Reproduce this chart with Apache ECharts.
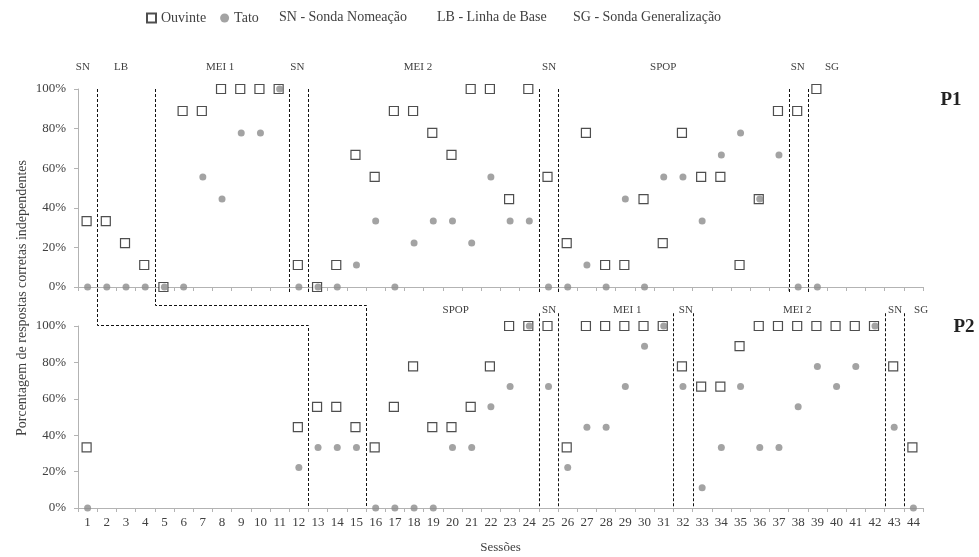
<!DOCTYPE html>
<html>
<head>
<meta charset="utf-8">
<script src="https://cdn.jsdelivr.net/npm/echarts@6/dist/echarts.min.js"></script>
<style>
html,body{margin:0;padding:0;background:#fff;}
#chart{width:979px;height:557px;}
</style>
</head>
<body>
<div id="chart"></div>
<script>
// ---------- DATA ----------
const sessions = ['1','2','3','4','5','6','7','8','9','10','11','12','13','14','15','16','17','18','19','20','21','22','23','24','25','26','27','28','29','30','31','32','33','34','35','36','37','38','39','40','41','42','43','44'];

// P1 (top panel), sessions 1-39
const ouvinteP1 = [33.3,33.3,22.2,11.1,0,88.9,88.9,100,100,100,100,11.1,0,11.1,66.7,55.6,88.9,88.9,77.8,66.7,100,100,44.4,100,55.6,22.2,77.8,11.1,11.1,44.4,22.2,77.8,55.6,55.6,11.1,44.4,88.9,88.9,100,null,null,null,null,null];
const tatoP1 = [0,0,0,0,0,0,55.6,44.4,77.8,77.8,100,0,0,0,11.1,33.3,0,22.2,33.3,33.3,22.2,55.6,33.3,33.3,0,0,11.1,0,44.4,0,55.6,55.6,33.3,66.7,77.8,44.4,66.7,0,0,null,null,null,null,null];

// P2 (bottom panel), sessions 1, 12-44
const ouvinteP2 = [33.3,null,null,null,null,null,null,null,null,null,null,44.4,55.6,55.6,44.4,33.3,55.6,77.8,44.4,44.4,55.6,77.8,100,100,100,33.3,100,100,100,100,100,77.8,66.7,66.7,88.9,100,100,100,100,100,100,100,77.8,33.3];
const tatoP2 = [0,null,null,null,null,null,null,null,null,null,null,22.2,33.3,33.3,33.3,0,0,0,0,33.3,33.3,55.6,66.7,100,66.7,22.2,44.4,44.4,66.7,88.9,100,66.7,11.1,33.3,66.7,33.3,33.3,55.6,77.8,66.7,77.8,100,44.4,0];

// Phase-change lines (session boundaries)
const phaseLinesP1 = [11.5,12.5,24.5,25.5,37.5,38.5];
const phaseLinesP2 = [24.5,25.5,31.5,32.5,42.5,43.5];
const stepLines = [[1.5,12.5],[4.5,15.5]]; // [P1 boundary, P2 boundary]

// Phase labels [text, session coordinate]
const phaseLabelsP1 = [['SN',0.75],['LB',2.74],['MEI 1',7.9],['SN',11.92],['MEI 2',18.2],['SN',25.03],['SPOP',30.97],['SN',37.98],['SG',39.76]];
const phaseLabelsP2 = [['SPOP',20.17],['SN',25.03],['MEI 1',29.1],['SN',32.15],['MEI 2',37.95],['SN',43.05],['SG',44.4]];

const legendExtra = ['SN - Sonda Nomeação','LB - Linha de Base','SG - Sonda Generalização'];
const panelNames = ['P1','P2'];
const yTitle = 'Porcentagem de respostas corretas independentes';
const xTitle = 'Sessões';

// ---------- CHART ----------
const FONT = '"Liberation Serif", "Times New Roman", serif';
const TXT = '#404040';
const AX = '#b3b3b3';
const chart = echarts.init(document.getElementById('chart'), null, {renderer:'canvas'});

function xAxisCfg(gridIndex, showLabels){
  return {
    type:'category', gridIndex, data:sessions, boundaryGap:true,
    axisLine:{show:true, lineStyle:{color:AX, width:1}},
    axisTick:{show:true, alignWithLabel:false, interval:0, length:4, lineStyle:{color:AX}},
    axisLabel:{show:showLabels, interval:0, margin:8, fontFamily:FONT, fontSize:13, color:TXT},
    splitLine:{show:false},
    name: showLabels ? xTitle : '',
    nameLocation:'middle', nameGap:33,
    nameTextStyle:{fontFamily:FONT, fontSize:13, color:TXT}
  };
}
function yAxisCfg(gridIndex){
  return {
    type:'value', gridIndex, min:0, max:100, interval:20,
    axisLine:{show:true, lineStyle:{color:AX, width:1}},
    axisTick:{show:true, length:4, lineStyle:{color:AX}},
    axisLabel:{formatter:'{value}%', margin:12, fontFamily:FONT, fontSize:13, color:TXT},
    splitLine:{show:false}
  };
}
const sqStyle = {color:'#ffffff', borderColor:'#222222', borderWidth:1.2};
const ciStyle = {color:'#8c8c8c'};

function sq(data, idx){
  return {name:'Ouvinte', type:'scatter', xAxisIndex:idx, yAxisIndex:idx, data,
    symbol:'rect', symbolSize:9, symbolOffset:[-1,0], itemStyle:sqStyle, z:2, clip:false,
    emphasis:{disabled:true}};
}
function ci(data, idx){
  return {name:'Tato', type:'scatter', xAxisIndex:idx, yAxisIndex:idx, data,
    symbol:'circle', symbolSize:7, itemStyle:ciStyle, z:3, clip:false,
    emphasis:{disabled:true}};
}

chart.setOption({
  animation:false,
  backgroundColor:'#ffffff',
  textStyle:{fontFamily:FONT},
  legend:{
    left:146, top:11, padding:0, itemWidth:9, itemHeight:9, itemGap:14,
    textStyle:{fontFamily:FONT, fontSize:14, color:TXT},
    data:[{name:'Ouvinte', icon:'rect'},{name:'Tato', icon:'circle'}],
    selectedMode:false
  },
  grid:[
    {left:78, right:56, top:89, height:198},
    {left:78, right:56, top:326, height:182}
  ],
  xAxis:[xAxisCfg(0,false), xAxisCfg(1,true)],
  yAxis:[yAxisCfg(0), yAxisCfg(1)],
  series:[sq(ouvinteP1,0), ci(tatoP1,0), sq(ouvinteP2,1), ci(tatoP2,1)]
});

// ---------- annotations via axis scales ----------
function px(idx, s){ // session coordinate -> pixel x
  const a = chart.convertToPixel({xAxisIndex:idx}, 0);
  const b = chart.convertToPixel({xAxisIndex:idx}, 1);
  return a + (s-1)*(b-a);
}
function py(idx, v){ return chart.convertToPixel({yAxisIndex:idx}, v); }

const dash = {stroke:'#111', lineWidth:1, lineDash:[3,2], fill:null};
const g = [];
phaseLinesP1.forEach(s=>{
  const x = Math.round(px(0,s))+0.5;
  g.push({type:'polyline', shape:{points:[[x,py(0,100)],[x,py(0,-3)]]}, style:dash, z:1});
});
phaseLinesP2.forEach(s=>{
  const x = Math.round(px(1,s))+0.5;
  g.push({type:'polyline', shape:{points:[[x,py(1,107)],[x,py(1,0)]]}, style:dash, z:1});
});
const stepLevels = [100.6, 111.5];
stepLines.forEach((pair,i)=>{
  const x1 = Math.round(px(0,pair[0]))+0.5;
  const x2 = Math.round(px(1,pair[1]))+0.5;
  const yh = Math.round(py(1,stepLevels[i]))+0.5;
  g.push({type:'polyline', shape:{points:[[x1,py(0,100)],[x1,yh],[x2,yh],[x2,py(1,0)]]}, style:dash, z:1});
});
phaseLabelsP1.forEach(([t,s])=>{
  g.push({type:'text', x:px(0,s), y:py(0,111), style:{text:t, fontFamily:FONT, fontSize:11, fill:TXT, align:'center', verticalAlign:'middle'}});
});
phaseLabelsP2.forEach(([t,s])=>{
  g.push({type:'text', x:px(1,s), y:py(1,109), style:{text:t, fontFamily:FONT, fontSize:11, fill:TXT, align:'center', verticalAlign:'middle'}});
});
// extra legend text
const legX = [279, 437, 573];
legendExtra.forEach((t,i)=>{
  g.push({type:'text', x:legX[i], y:17, style:{text:t, fontFamily:FONT, fontSize:14, fill:TXT, align:'left', verticalAlign:'middle'}});
});
// panel names
g.push({type:'text', x:951, y:100, style:{text:panelNames[0], fontFamily:FONT, fontSize:19, fontWeight:'bold', fill:'#222', align:'center', verticalAlign:'middle'}});
g.push({type:'text', x:964, y:327, style:{text:panelNames[1], fontFamily:FONT, fontSize:19, fontWeight:'bold', fill:'#222', align:'center', verticalAlign:'middle'}});
// y title
g.push({type:'text', x:22, y:298, rotation:Math.PI/2, style:{text:yTitle, fontFamily:FONT, fontSize:14, fill:TXT, align:'center', verticalAlign:'middle'}});

chart.setOption({graphic:g});
</script>
</body>
</html>
